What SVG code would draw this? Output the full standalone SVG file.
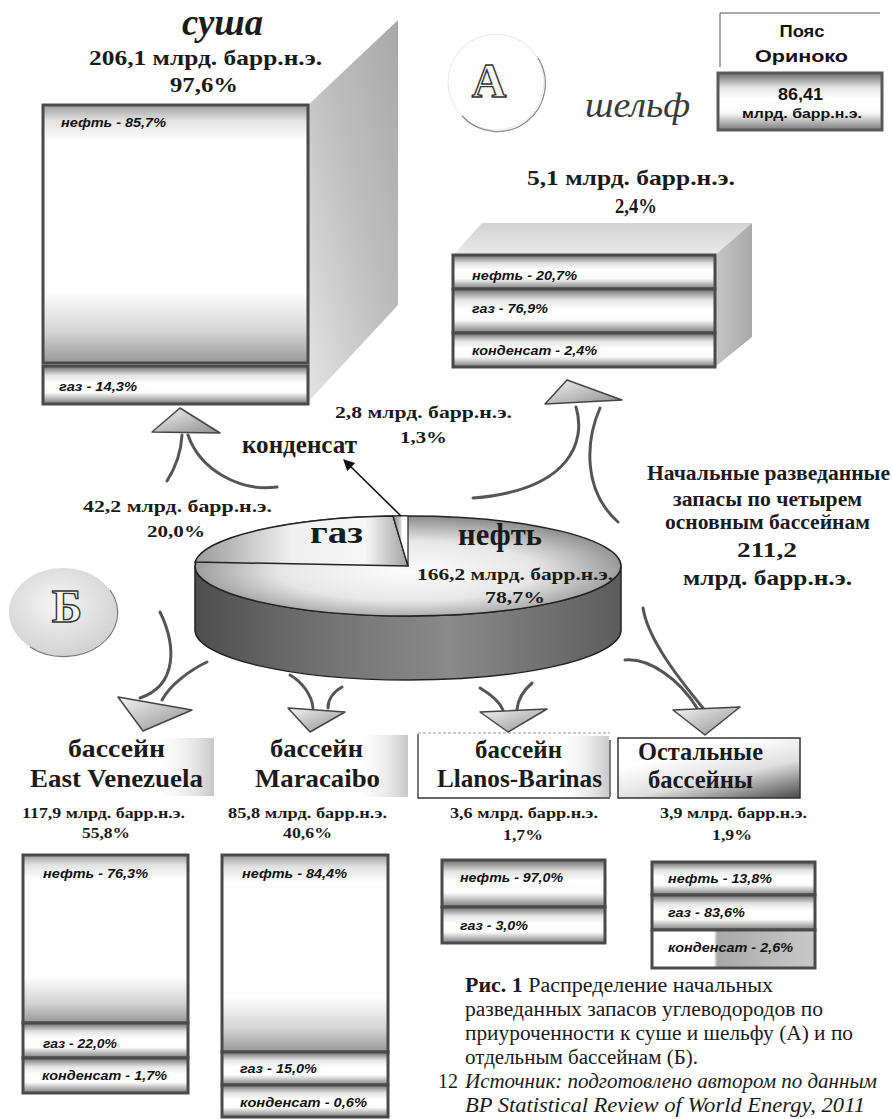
<svg xmlns="http://www.w3.org/2000/svg" width="892" height="1119" viewBox="0 0 892 1119">
<style>
.tb{font-family:"Liberation Serif","Times New Roman",serif;font-weight:bold;fill:#1a1a1a}
.bx{font-family:"Liberation Sans",Arial,sans-serif;font-weight:bold;font-style:italic;font-size:13px;fill:#111}
.ss{font-family:"Liberation Sans",Arial,sans-serif;font-weight:bold;fill:#111}
.cap{font-family:"Liberation Serif","Times New Roman",serif;font-size:20px;fill:#1a1a1a}
.sec{stroke:#4a4a4a;stroke-width:3}
.curve{fill:none;stroke:#555;stroke-width:3;stroke-linecap:round}
.tri{fill:url(#triG);stroke:#444;stroke-width:1.5;stroke-linejoin:round}
.wa{font-family:"Liberation Serif","Times New Roman",serif;font-weight:bold;fill:#fafafa;stroke:#333;stroke-width:1.4}
</style>
<defs>
<linearGradient id="tallG" x1="0" y1="0" x2="0" y2="1">
<stop offset="0" stop-color="#9c9c9c"/><stop offset="0.06" stop-color="#e2e2e2"/><stop offset="0.14" stop-color="#fff"/><stop offset="0.72" stop-color="#fff"/><stop offset="0.88" stop-color="#d4d4d4"/><stop offset="1" stop-color="#979797"/>
</linearGradient>
<linearGradient id="bandG" x1="0" y1="0" x2="0" y2="1">
<stop offset="0" stop-color="#6c6c6c"/><stop offset="0.25" stop-color="#e4e4e4"/><stop offset="0.45" stop-color="#fff"/><stop offset="0.7" stop-color="#fbfbfb"/><stop offset="1" stop-color="#7a7a7a"/>
</linearGradient>
<linearGradient id="splitG" x1="0" y1="0" x2="1" y2="0">
<stop offset="0" stop-color="#fff"/><stop offset="0.38" stop-color="#fff"/><stop offset="0.4" stop-color="#a9a9a9"/><stop offset="1" stop-color="#c9c9c9"/>
</linearGradient>
<linearGradient id="triG" x1="0" y1="0" x2="1" y2="1">
<stop offset="0" stop-color="#f4f4f4"/><stop offset="1" stop-color="#8e8e8e"/>
</linearGradient>
<radialGradient id="pieTopG" cx="0.5" cy="0.55" r="0.55">
<stop offset="0" stop-color="#fdfdfd"/><stop offset="0.55" stop-color="#e6e6e6"/><stop offset="1" stop-color="#8a8a8a"/>
</radialGradient>
<linearGradient id="pieSideG" x1="0" y1="0" x2="1" y2="0">
<stop offset="0" stop-color="#4e4e4e"/><stop offset="0.3" stop-color="#727272"/><stop offset="0.6" stop-color="#8a8a8a"/><stop offset="1" stop-color="#5c5c5c"/>
</linearGradient>
<linearGradient id="gasG" x1="0" y1="0" x2="1" y2="0">
<stop offset="0" stop-color="#9a9a9a"/><stop offset="0.45" stop-color="#efefef"/><stop offset="0.8" stop-color="#f7f7f7"/><stop offset="1" stop-color="#a0a0a0"/>
</linearGradient>
<linearGradient id="condG" x1="0" y1="0" x2="1" y2="0">
<stop offset="0" stop-color="#888"/><stop offset="0.5" stop-color="#cfcfcf"/><stop offset="0.6" stop-color="#fff"/><stop offset="1" stop-color="#fff"/>
</linearGradient>
<linearGradient id="sideG" x1="0" y1="1" x2="1" y2="0">
<stop offset="0" stop-color="#e4e4e4"/><stop offset="0.5" stop-color="#c0c0c0"/><stop offset="1" stop-color="#a8a8a8"/>
</linearGradient>
<linearGradient id="topFaceG" x1="0" y1="0" x2="0" y2="1">
<stop offset="0" stop-color="#d2d2d2"/><stop offset="1" stop-color="#ebebeb"/>
</linearGradient>
<linearGradient id="shelfSideG" x1="0" y1="0" x2="1" y2="0">
<stop offset="0" stop-color="#c6c6c6"/><stop offset="1" stop-color="#a8a8a8"/>
</linearGradient>
<radialGradient id="circBG" cx="0.45" cy="0.4" r="0.6">
<stop offset="0" stop-color="#f6f6f6"/><stop offset="1" stop-color="#d2d2d2"/>
</radialGradient>
<linearGradient id="hazeG" x1="0" y1="0" x2="1" y2="0">
<stop offset="0" stop-color="#fff" stop-opacity="0"/><stop offset="1" stop-color="#c8c8c8"/>
</linearGradient>
<linearGradient id="otherHdrG" x1="0.45" y1="0.2" x2="1" y2="1">
<stop offset="0" stop-color="#fff"/><stop offset="0.45" stop-color="#e0e0e0"/><stop offset="1" stop-color="#4a4a4a"/>
</linearGradient>
<marker id="arr" viewBox="0 0 10 10" refX="9" refY="5" markerWidth="8" markerHeight="7" orient="auto">
<path d="M0,0 L10,5 L0,10 z" fill="#111"/>
</marker>
</defs>
<rect width="892" height="1119" fill="#fff"/>

<!-- Суша -->
<g id="node-susha">
<polygon points="308,105 398,20 398,305 308,402" fill="url(#sideG)"/>
<text class="tb" x="182" y="35" font-size="38" font-style="italic" textLength="81" lengthAdjust="spacingAndGlyphs" fill="#2a2a2a">суша</text>
<text class="tb" x="89" y="65" font-size="21" textLength="233" lengthAdjust="spacingAndGlyphs">206,1 млрд. барр.н.э.</text>
<text class="tb" x="170" y="92" font-size="21" textLength="68" lengthAdjust="spacingAndGlyphs">97,6%</text>
<rect class="sec" x="43" y="105" width="265" height="258" fill="url(#tallG)"/>
<rect class="sec" x="43" y="366" width="265" height="38" fill="url(#bandG)"/>
<text class="bx" x="61" y="127" textLength="105" lengthAdjust="spacingAndGlyphs">нефть - 85,7%</text>
<text class="bx" x="59" y="391" textLength="78" lengthAdjust="spacingAndGlyphs">газ - 14,3%</text>
</g>

<!-- Circle A -->
<g id="circle-a">
<circle cx="496" cy="82" r="48" fill="#fdfdfd" stroke="#e8e8e8" stroke-width="1"/>
<path d="M538,58 A48,48 0 0 1 462,116" fill="none" stroke="#8a8a8a" stroke-width="1.2"/>
<text class="wa" x="489" y="97" font-size="48" text-anchor="middle">А</text>
</g>

<!-- Шельф -->
<g id="node-shelf">
<text x="585" y="117" font-family="Liberation Serif,Times New Roman,serif" font-style="italic" font-size="36" fill="#3a3a3a" textLength="105" lengthAdjust="spacingAndGlyphs">шельф</text>
<text class="tb" x="527" y="185" font-size="22" textLength="208" lengthAdjust="spacingAndGlyphs">5,1 млрд. барр.н.э.</text>
<text class="tb" x="615" y="213" font-size="22" textLength="42" lengthAdjust="spacingAndGlyphs">2,4%</text>
<polygon points="453,255 482,223 752,223 715,255" fill="url(#topFaceG)"/>
<polygon points="715,255 752,223 752,337 715,367" fill="url(#shelfSideG)"/>
<rect class="sec" x="453" y="255" width="262" height="34" fill="url(#bandG)"/>
<rect class="sec" x="453" y="289" width="262" height="44" fill="url(#bandG)"/>
<rect class="sec" x="453" y="333" width="262" height="34" fill="url(#bandG)"/>
<text class="bx" x="472" y="280" textLength="105" lengthAdjust="spacingAndGlyphs">нефть - 20,7%</text>
<text class="bx" x="472" y="313" textLength="76" lengthAdjust="spacingAndGlyphs">газ - 76,9%</text>
<text class="bx" x="472" y="355" textLength="125" lengthAdjust="spacingAndGlyphs">конденсат - 2,4%</text>
</g>

<!-- Пояс Ориноко -->
<g id="node-orinoco">
<polyline points="720,67 720,13 880,13" fill="none" stroke="#555" stroke-width="1"/>
<text class="ss" x="802" y="37" font-size="16" text-anchor="middle" textLength="45" lengthAdjust="spacingAndGlyphs">Пояс</text>
<text class="ss" x="755" y="62" font-size="17" textLength="93" lengthAdjust="spacingAndGlyphs">Ориноко</text>
<rect x="718" y="73" width="164" height="57" fill="url(#bandG)" stroke="#5a5a5a" stroke-width="3"/>
<text class="ss" x="778" y="100" font-size="17" textLength="45" lengthAdjust="spacingAndGlyphs">86,41</text>
<text class="ss" x="742" y="118" font-size="12" textLength="120" lengthAdjust="spacingAndGlyphs">млрд. барр.н.э.</text>
</g>

<!-- Pie -->
<g id="node-pie">
<path d="M195,566 L195,630 A213,50 0 0 0 621,630 L621,566 A213,50 0 0 1 195,566 Z" fill="url(#pieSideG)" stroke="#222" stroke-width="1.5"/>
<ellipse cx="408" cy="566" rx="213" ry="50" fill="url(#pieTopG)" stroke="#222" stroke-width="1.5"/>
<path d="M408,566 L195,562 A213,50 0 0 1 393,516 Z" fill="url(#gasG)" stroke="#222" stroke-width="1.5"/>
<path d="M408,566 L393,516 A213,50 0 0 1 408,516 Z" fill="url(#condG)" stroke="#222" stroke-width="1.2"/>
<text class="tb" x="310" y="543" font-size="32" fill="#555" textLength="53" lengthAdjust="spacingAndGlyphs">газ</text>
<text class="tb" x="458" y="545" font-size="32" fill="#555" textLength="84" lengthAdjust="spacingAndGlyphs">нефть</text>
<text class="tb" x="417" y="580" font-size="17" textLength="196" lengthAdjust="spacingAndGlyphs">166,2 млрд. барр.н.э.</text>
<text class="tb" x="485" y="603" font-size="17" textLength="60" lengthAdjust="spacingAndGlyphs">78,7%</text>
</g>

<!-- Pie labels -->
<g id="label-cond">
<text class="tb" x="242" y="453" font-size="26" textLength="115" lengthAdjust="spacingAndGlyphs">конденсат</text>
<text class="tb" x="335" y="418" font-size="17" textLength="177" lengthAdjust="spacingAndGlyphs">2,8 млрд. барр.н.э.</text>
<text class="tb" x="400" y="443" font-size="17" textLength="47" lengthAdjust="spacingAndGlyphs">1,3%</text>
</g>
<g id="label-gas">
<text class="tb" x="83" y="512" font-size="17" textLength="189" lengthAdjust="spacingAndGlyphs">42,2 млрд. барр.н.э.</text>
<text class="tb" x="147" y="537" font-size="17" textLength="58" lengthAdjust="spacingAndGlyphs">20,0%</text>
</g>

<!-- Total -->
<g id="node-total">
<text class="tb" x="647" y="480" font-size="20" textLength="243" lengthAdjust="spacingAndGlyphs">Начальные разведанные</text>
<text class="tb" x="673" y="506" font-size="20" textLength="189" lengthAdjust="spacingAndGlyphs">запасы по четырем</text>
<text class="tb" x="665" y="529" font-size="20" textLength="205" lengthAdjust="spacingAndGlyphs">основным бассейнам</text>
<text class="tb" x="737" y="557" font-size="20" textLength="60" lengthAdjust="spacingAndGlyphs">211,2</text>
<text class="tb" x="683" y="585" font-size="20" textLength="169" lengthAdjust="spacingAndGlyphs">млрд. барр.н.э.</text>
</g>

<!-- Circle Б -->
<g id="circle-b">
<ellipse cx="63" cy="612" rx="54" ry="44" fill="url(#circBG)"/>
<path d="M110,590 A54,44 0 0 1 30,647" fill="none" stroke="#777" stroke-width="1.2"/>
<text class="wa" x="67" y="622" font-size="46" text-anchor="middle">Б</text>
</g>

<!-- East Venezuela -->
<g id="node-ev">
<rect x="150" y="738" width="64" height="58" fill="url(#hazeG)"/>
<text class="tb" x="68" y="757" font-size="25" textLength="97" lengthAdjust="spacingAndGlyphs">бассейн</text>
<text class="tb" x="30" y="787" font-size="25" textLength="173" lengthAdjust="spacingAndGlyphs">East Venezuela</text>
<text class="tb" x="22" y="818" font-size="15" textLength="163" lengthAdjust="spacingAndGlyphs">117,9 млрд. барр.н.э.</text>
<text class="tb" x="82" y="838" font-size="15" textLength="48" lengthAdjust="spacingAndGlyphs">55,8%</text>
<rect class="sec" x="23" y="855" width="165" height="168" fill="url(#tallG)"/>
<rect class="sec" x="23" y="1023" width="165" height="35" fill="url(#bandG)"/>
<rect class="sec" x="23" y="1058" width="165" height="35" fill="url(#bandG)"/>
<text class="bx" x="43" y="878" textLength="105" lengthAdjust="spacingAndGlyphs">нефть - 76,3%</text>
<text class="bx" x="43" y="1048" font-weight="normal" textLength="74" lengthAdjust="spacingAndGlyphs">газ - 22,0%</text>
<text class="bx" x="42" y="1080" textLength="125" lengthAdjust="spacingAndGlyphs">конденсат - 1,7%</text>
</g>

<!-- Maracaibo -->
<g id="node-mar">
<rect x="352" y="735" width="56" height="62" fill="url(#hazeG)"/>
<text class="tb" x="270" y="757" font-size="25" textLength="93" lengthAdjust="spacingAndGlyphs">бассейн</text>
<text class="tb" x="255" y="787" font-size="25" textLength="125" lengthAdjust="spacingAndGlyphs">Maracaibo</text>
<text class="tb" x="228" y="818" font-size="15" textLength="159" lengthAdjust="spacingAndGlyphs">85,8 млрд. барр.н.э.</text>
<text class="tb" x="283" y="838" font-size="15" textLength="49" lengthAdjust="spacingAndGlyphs">40,6%</text>
<rect class="sec" x="222" y="855" width="166" height="197" fill="url(#tallG)"/>
<rect class="sec" x="222" y="1052" width="166" height="33" fill="url(#bandG)"/>
<rect class="sec" x="222" y="1085" width="166" height="32" fill="url(#bandG)"/>
<text class="bx" x="242" y="878" textLength="105" lengthAdjust="spacingAndGlyphs">нефть - 84,4%</text>
<text class="bx" x="240" y="1073" textLength="77" lengthAdjust="spacingAndGlyphs">газ - 15,0%</text>
<text class="bx" x="240" y="1107" textLength="127" lengthAdjust="spacingAndGlyphs">конденсат - 0,6%</text>
</g>

<!-- Llanos-Barinas -->
<g id="node-llanos">
<rect x="555" y="736" width="54" height="61" fill="url(#hazeG)"/>
<path d="M418,734 L418,798 L610,798 M610,740 L610,797" fill="none" stroke="#333" stroke-width="1.3"/>
<line x1="418" y1="733" x2="610" y2="733" stroke="#999" stroke-width="1" stroke-dasharray="3,2"/>
<text class="tb" x="475" y="758" font-size="25" textLength="87" lengthAdjust="spacingAndGlyphs">бассейн</text>
<text class="tb" x="437" y="787" font-size="25" textLength="165" lengthAdjust="spacingAndGlyphs">Llanos-Barinas</text>
<text class="tb" x="450" y="818" font-size="15" textLength="148" lengthAdjust="spacingAndGlyphs">3,6 млрд. барр.н.э.</text>
<text class="tb" x="503" y="840" font-size="15" textLength="40" lengthAdjust="spacingAndGlyphs">1,7%</text>
<rect class="sec" x="442" y="860" width="163" height="47" fill="url(#bandG)"/>
<rect class="sec" x="442" y="907" width="163" height="36" fill="url(#bandG)"/>
<text class="bx" x="460" y="882" textLength="103" lengthAdjust="spacingAndGlyphs">нефть - 97,0%</text>
<text class="bx" x="460" y="930" textLength="68" lengthAdjust="spacingAndGlyphs">газ - 3,0%</text>
</g>

<!-- Остальные -->
<g id="node-other">
<rect x="618" y="738" width="182" height="60" fill="url(#otherHdrG)" stroke="#333" stroke-width="1.5"/>
<text class="tb" x="638" y="760" font-size="25" textLength="125" lengthAdjust="spacingAndGlyphs">Остальные</text>
<text class="tb" x="648" y="788" font-size="25" textLength="105" lengthAdjust="spacingAndGlyphs">бассейны</text>
<text class="tb" x="660" y="818" font-size="15" textLength="147" lengthAdjust="spacingAndGlyphs">3,9 млрд. барр.н.э.</text>
<text class="tb" x="712" y="840" font-size="15" textLength="40" lengthAdjust="spacingAndGlyphs">1,9%</text>
<rect class="sec" x="652" y="862" width="163" height="33" fill="url(#bandG)"/>
<rect class="sec" x="652" y="895" width="163" height="35" fill="url(#bandG)"/>
<rect class="sec" x="652" y="930" width="163" height="38" fill="url(#splitG)"/>
<text class="bx" x="668" y="883" textLength="104" lengthAdjust="spacingAndGlyphs">нефть - 13,8%</text>
<text class="bx" x="668" y="917" textLength="77" lengthAdjust="spacingAndGlyphs">газ - 83,6%</text>
<text class="bx" x="668" y="952" textLength="125" lengthAdjust="spacingAndGlyphs">конденсат - 2,6%</text>
</g>

<!-- Connectors -->
<g id="connectors">
<path class="curve" d="M182,435 C181,455 174,470 167,481"/>
<path class="curve" d="M188,435 C200,470 240,492 277,487"/>
<polygon class="tri" points="180,408 152,432 220,433"/>
<path class="curve" d="M576,407 C586,440 572,490 473,498"/>
<path class="curve" d="M600,408 C586,440 582,490 618,522"/>
<polygon class="tri" points="567,380 545,404 622,400"/>
<line x1="401" y1="516" x2="344" y2="460" stroke="#111" stroke-width="1.6" marker-end="url(#arr)"/>
<path class="curve" d="M160,612 C176,645 178,685 140,698"/>
<path class="curve" d="M207,662 C190,670 170,685 162,700"/>
<polygon class="tri" points="118,697 192,710 143,731"/>
<path class="curve" d="M290,675 C302,682 312,695 313,708"/>
<path class="curve" d="M342,687 C333,692 328,700 328,708"/>
<polygon class="tri" points="288,708 345,712 310,732"/>
<path class="curve" d="M480,688 C492,695 500,703 503,710"/>
<path class="curve" d="M532,683 C524,690 518,700 517,709"/>
<polygon class="tri" points="480,712 547,709 508,732"/>
<path class="curve" d="M643,608 C648,640 680,680 703,708"/>
<path class="curve" d="M625,660 C650,658 680,680 697,708"/>
<polygon class="tri" points="673,710 740,707 705,735"/>
</g>

<!-- Caption -->
<g id="caption">
<text class="cap" x="465" y="992" textLength="308" lengthAdjust="spacingAndGlyphs"><tspan font-weight="bold">Рис.  1</tspan> Распределение начальных</text>
<text class="cap" x="465" y="1016" textLength="358" lengthAdjust="spacingAndGlyphs">разведанных запасов углеводородов по</text>
<text class="cap" x="465" y="1040" textLength="388" lengthAdjust="spacingAndGlyphs">приуроченности к суше и шельфу (А) и по</text>
<text class="cap" x="465" y="1064" textLength="233" lengthAdjust="spacingAndGlyphs">отдельным бассейнам (Б).</text>
<text class="cap" x="438" y="1088">12</text>
<text class="cap" x="465" y="1088" font-style="italic" textLength="412" lengthAdjust="spacingAndGlyphs">Источник: подготовлено автором по данным</text>
<text class="cap" x="465" y="1112" font-style="italic" textLength="400" lengthAdjust="spacingAndGlyphs">BP Statistical Review of World Energy, 2011</text>
</g>
</svg>
